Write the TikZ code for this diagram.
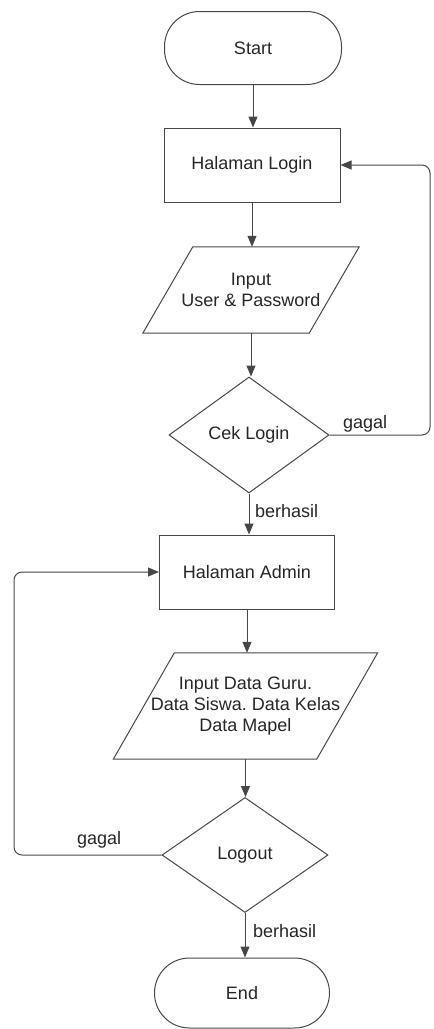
\documentclass[tikz,border=0pt]{standalone}
\usepackage{fontspec}
\setmainfont{Liberation Sans}
\usetikzlibrary{arrows.meta,shapes.geometric,calc}
\frenchspacing
\begin{document}
\begin{tikzpicture}[x=1pt,y=-1pt,
  every node/.style={font=\fontsize{18}{21}\selectfont, text=black!85},
  line/.style={draw=black!72, line width=1pt},
  arr/.style={line, -{Triangle[length=11pt,width=9pt]}},
  term/.style={line, rounded corners=35pt, minimum width=177pt, minimum height=73pt, inner sep=0pt},
  proc/.style={line, minimum width=176pt, minimum height=74pt, inner sep=0pt},
  dec/.style={line, diamond, inner sep=0pt},
  io/.style={inner sep=0pt, align=center},
  lbl/.style={anchor=base west, inner sep=0pt}
]
\useasboundingbox (0,0) rectangle (434,1029);

\node[term] (start) at (253,48) {Start};
\node[proc] (login) at (252,165) {Halaman Login};
\node[io, minimum width=166pt, minimum height=86pt] (input) at (251,290) {Input\\User \& Password};
\draw[line] ($(input.south west)+(-25,0)$) -- ($(input.south east)+(-25,0)$) -- ($(input.north east)+(25,0)$) -- ($(input.north west)+(25,0)$) -- cycle;
\node[dec, minimum width=160pt, minimum height=116pt] (cek) at (249,435) {Cek Login};
\node[proc, minimum width=175pt] (admin) at (247,572) {Halaman Admin};
\node[io, minimum width=203pt, minimum height=106pt] (data) at (245.5,706) {Input Data Guru.\\Data Siswa. Data Kelas\\Data Mapel};
\draw[line] ($(data.south west)+(-30.5,0)$) -- ($(data.south east)+(-30.5,0)$) -- ($(data.north east)+(30.5,0)$) -- ($(data.north west)+(30.5,0)$) -- cycle;
\node[dec, minimum width=166pt, minimum height=115pt] (logout) at (245,855) {Logout};
\node[term, minimum width=175pt, minimum height=70pt] (end) at (242,993) {End};

\draw[arr] (start.south) -- (start.south |- login.north);
\draw[arr] (login.south) -- (login.south |- input.north);
\draw[arr] (input.south) -- (input.south |- cek.north);
\draw[arr] (cek.south) -- (cek.south |- admin.north);
\draw[arr] (admin.south) -- (admin.south |- data.north);
\draw[arr] (data.south) -- (data.south |- logout.north);
\draw[arr] (logout.south) -- (logout.south |- end.north);

\coordinate (r1) at (430,435);
\coordinate (r2) at (430,165);
\draw[arr, rounded corners=8pt] (cek.east) -- (r1) -- (r2) -- (login.east);
\coordinate (l1) at (14,855);
\coordinate (l2) at (14,572);
\draw[arr, rounded corners=8pt] (logout.west) -- (l1) -- (l2) -- (admin.west);

\node[lbl] (g1) at (343,428) {gagal};
\node[lbl] (b1) at (255,517) {berhasil};
\node[lbl] (g2) at (77,844) {gagal};
\node[lbl] (b2) at (253,937) {berhasil};
\end{tikzpicture}
\end{document}
